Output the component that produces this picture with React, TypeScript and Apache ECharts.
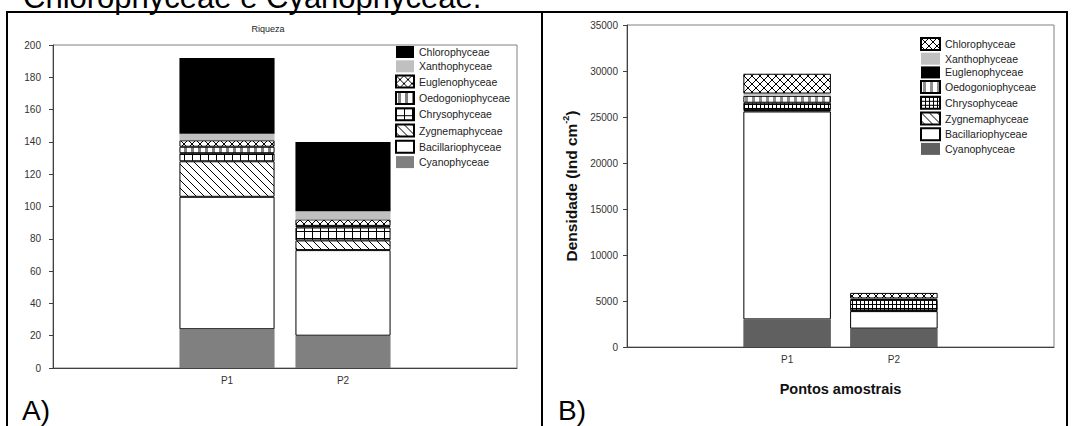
import React, { useEffect, useRef } from 'react';
import * as echarts from 'echarts';

// ---------- data ----------
const categories = ['', 'P1', 'P2', ''];
// stacking order, bottom to top
const groups = [
  'Cyanophyceae',
  'Bacillariophyceae',
  'Zygnemaphyceae',
  'Chrysophyceae',
  'Oedogoniophyceae',
  'Euglenophyceae',
  'Xanthophyceae',
  'Chlorophyceae',
];
// A) Riqueza (number of taxa)
const riquezaP1 = [24, 82, 22, 5, 4, 4, 4, 47];
const riquezaP2 = [20, 53, 6, 8, 1, 4, 5, 43];
const riquezaTicks = [0, 20, 40, 60, 80, 100, 120, 140, 160, 180, 200];
// B) Densidade (Ind cm-2)
const densidadeP1 = [3000, 22600, 150, 800, 750, 0, 250, 2150];
const densidadeP2 = [2000, 1900, 80, 1150, 100, 0, 50, 600];
const densidadeTicks = [0, 5000, 10000, 15000, 20000, 25000, 30000, 35000];

const headerText = 'Chlorophyceae e Cyanophyceae.';
const titleA = 'Riqueza';
const yNameB = '{a|Densidade (Ind cm}{s|-2}{a|)}';
const xNameB = 'Pontos amostrais';

const FONT = '"Liberation Sans", Arial, sans-serif';

// ---------- patterns ----------
function pattern(w: number, h: number, draw: (ctx: CanvasRenderingContext2D, w: number, h: number) => void) {
  const c = document.createElement('canvas');
  c.width = w;
  c.height = h;
  const ctx = c.getContext('2d') as CanvasRenderingContext2D;
  ctx.fillStyle = '#ffffff';
  ctx.fillRect(0, 0, w, h);
  draw(ctx, w, h);
  return { image: c, repeat: 'repeat', imageWidth: w, imageHeight: h } as any;
}
const cross = (s: number) =>
  pattern(s, s, (ctx, w, h) => {
    ctx.strokeStyle = '#000';
    ctx.lineWidth = 1;
    for (const k of [-w, 0, w]) {
      ctx.beginPath();
      ctx.moveTo(k, 0);
      ctx.lineTo(k + w, h);
      ctx.moveTo(k + w, 0);
      ctx.lineTo(k, h);
      ctx.stroke();
    }
  });
const diag = (s: number) =>
  pattern(s, s, (ctx, w, h) => {
    ctx.strokeStyle = '#000';
    ctx.lineWidth = 1;
    for (const k of [-w, 0, w]) {
      ctx.beginPath();
      ctx.moveTo(k, 0);
      ctx.lineTo(k + w, h);
      ctx.stroke();
    }
  });
const grid = (w0: number, h0: number) =>
  pattern(w0, h0, (ctx, w, h) => {
    ctx.fillStyle = '#000';
    ctx.fillRect(0, 0, w, 1);
    ctx.fillRect(0, 0, 1, h);
  });
const stripes = (w0: number, bar: number, col: string) =>
  pattern(w0, 4, (ctx, w, h) => {
    ctx.fillStyle = col;
    ctx.fillRect(Math.round((w - bar) / 2), 0, bar, h);
  });

type St = { color: any; border: boolean };

function buildSeries(p1: number[], p2: number[], styles: St[]) {
  return groups.map((g, i) => ({
    name: g,
    type: 'bar',
    stack: 'total',
    barWidth: '82%',
    data: categories.map((c) => (c === 'P1' ? p1[i] : c === 'P2' ? p2[i] : null)),
    itemStyle: {
      color: styles[i].color,
      borderColor: '#000',
      borderWidth: styles[i].border ? 1 : 0,
    },
  }));
}

function frameLine(x1: number, y1: number, x2: number, y2: number) {
  return {
    type: 'line',
    silent: true,
    z: 100,
    shape: { x1, y1, x2, y2 },
    style: { stroke: '#000', lineWidth: 2 },
  };
}

function optionA() {
  const styles: St[] = [
    { color: '#808080', border: false },
    { color: '#ffffff', border: true },
    { color: diag(8), border: true },
    { color: grid(8, 7), border: true },
    { color: stripes(7, 3, '#808080'), border: true },
    { color: cross(8), border: true },
    { color: '#c0c0c0', border: false },
    { color: '#000000', border: false },
  ];
  return {
    animation: false,
    textStyle: { fontFamily: FONT },
    grid: { left: 53, top: 45, width: 464, height: 323, show: true, borderColor: '#808080', borderWidth: 1 },
    xAxis: {
      type: 'category',
      data: categories,
      axisLine: { lineStyle: { color: '#404040' } },
      axisTick: { alignWithLabel: true, length: 3, lineStyle: { color: '#404040' } },
      axisLabel: { color: '#333', fontSize: 10, margin: 7 },
      splitLine: { show: false },
    },
    yAxis: {
      type: 'value',
      min: riquezaTicks[0],
      max: riquezaTicks[riquezaTicks.length - 1],
      interval: riquezaTicks[1] - riquezaTicks[0],
      axisLine: { show: true, lineStyle: { color: '#404040' } },
      axisTick: { show: true, length: 4, lineStyle: { color: '#404040' } },
      axisLabel: { color: '#333', fontSize: 10, margin: 12 },
      splitLine: { show: false },
    },
    legend: {
      orient: 'vertical',
      left: 395,
      top: 46,
      padding: 0,
      itemWidth: 18,
      itemHeight: 12,
      itemGap: 2.3,
      icon: 'rect',
      data: [...groups].reverse(),
      textStyle: { fontSize: 10.5, color: '#222', fontFamily: FONT },
      selectedMode: false,
    },
    series: buildSeries(riquezaP1, riquezaP2, styles),
    graphic: [
      {
        type: 'text',
        x: 23,
        y: -3,
        silent: true,
        style: { text: headerText, fontSize: 31, fontFamily: FONT, fill: '#000', verticalAlign: 'middle' },
      },
      {
        type: 'text',
        x: 268,
        y: 29,
        silent: true,
        style: { text: titleA, fontSize: 9, fontFamily: FONT, fill: '#222', align: 'center', verticalAlign: 'middle' },
      },
      {
        type: 'text',
        x: 22,
        y: 410,
        silent: true,
        style: { text: 'A)', fontSize: 28, fontFamily: FONT, fill: '#000', verticalAlign: 'middle' },
      },
      frameLine(6, 12, 542, 12),
      frameLine(7, 12, 7, 426),
    ],
  };
}

function optionB() {
  const styles: St[] = [
    { color: '#606060', border: false },
    { color: '#ffffff', border: true },
    { color: diag(8), border: true },
    { color: grid(4, 4), border: true },
    { color: stripes(7, 3, '#909090'), border: true },
    { color: '#000000', border: false },
    { color: '#c0c0c0', border: false },
    { color: cross(8), border: true },
  ];
  return {
    animation: false,
    textStyle: { fontFamily: FONT },
    grid: { left: 87, top: 25, width: 427, height: 322, show: true, borderColor: '#808080', borderWidth: 1 },
    xAxis: {
      type: 'category',
      data: categories,
      name: xNameB,
      nameLocation: 'middle',
      nameGap: 34,
      nameTextStyle: { fontSize: 14.5, fontWeight: 'bold', color: '#111', fontFamily: FONT },
      axisLine: { lineStyle: { color: '#404040' } },
      axisTick: { alignWithLabel: true, length: 3, lineStyle: { color: '#404040' } },
      axisLabel: { color: '#333', fontSize: 10, margin: 7 },
      splitLine: { show: false },
    },
    yAxis: {
      type: 'value',
      min: densidadeTicks[0],
      max: densidadeTicks[densidadeTicks.length - 1],
      interval: densidadeTicks[1] - densidadeTicks[0],
      name: yNameB,
      nameLocation: 'middle',
      nameRotate: 90,
      nameGap: 38,
      nameTextStyle: {
        rich: {
          a: { fontSize: 15.5, fontWeight: 'bold', color: '#111', fontFamily: FONT, lineHeight: 19 },
          s: { fontSize: 9, fontWeight: 'bold', color: '#111', fontFamily: FONT, verticalAlign: 'top', lineHeight: 10 },
        },
      },
      axisLine: { show: true, lineStyle: { color: '#404040' } },
      axisTick: { show: true, length: 4, lineStyle: { color: '#404040' } },
      axisLabel: { color: '#333', fontSize: 10, margin: 9, formatter: (v: number) => String(v) },
      splitLine: { show: false },
    },
    legend: {
      orient: 'vertical',
      left: 380,
      top: 37,
      padding: 0,
      itemWidth: 19,
      itemHeight: 12,
      itemGap: 1.7,
      icon: 'rect',
      data: [...groups].reverse(),
      textStyle: { fontSize: 10.5, color: '#222', fontFamily: FONT },
      selectedMode: false,
    },
    series: buildSeries(densidadeP1, densidadeP2, styles),
    graphic: [
      {
        type: 'text',
        x: 18,
        y: 410,
        silent: true,
        style: { text: 'B)', fontSize: 28, fontFamily: FONT, fill: '#000', verticalAlign: 'middle' },
      },
      frameLine(0, 12, 528, 12),
      frameLine(2, 12, 2, 426),
      frameLine(527, 12, 527, 426),
    ],
  };
}

function Panel({ left, width, build }: { left: number; width: number; build: () => any }) {
  const ref = useRef<HTMLDivElement>(null);
  useEffect(() => {
    if (!ref.current) return;
    const chart = echarts.init(ref.current, undefined, { renderer: 'svg' });
    chart.setOption(build());
    return () => chart.dispose();
  }, []);
  return <div ref={ref} style={{ position: 'absolute', left, top: 0, width, height: 426 }} />;
}

export default function App() {
  return (
    <div style={{ position: 'absolute', left: 0, top: 0, width: 1072, height: 426, background: '#fff', overflow: 'hidden' }}>
      <Panel left={0} width={542} build={optionA} />
      <Panel left={540} width={532} build={optionB} />
    </div>
  );
}
